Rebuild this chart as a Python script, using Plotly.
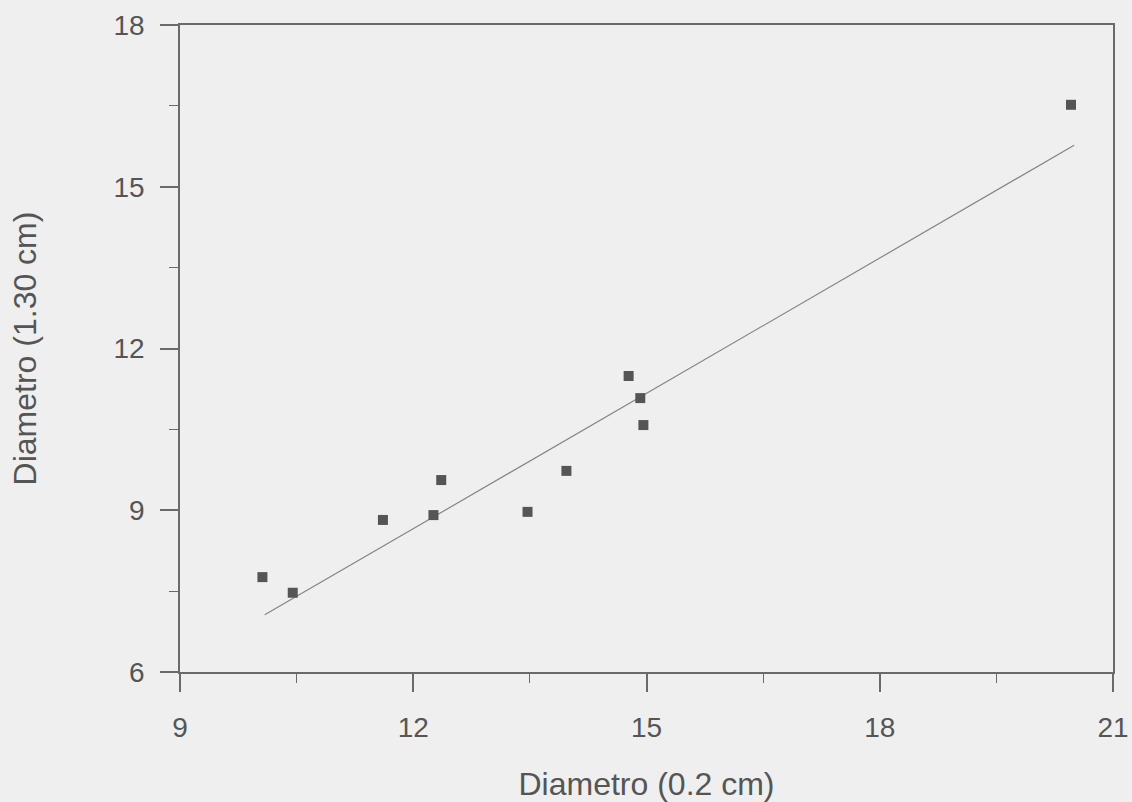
import plotly.graph_objects as go

# Data
x_vals = [10.06, 10.45, 11.61, 12.26, 12.36, 13.47, 13.97, 14.77, 14.92, 14.96, 20.46]
y_vals = [7.76, 7.47, 8.82, 8.91, 9.56, 8.97, 9.73, 11.49, 11.08, 10.58, 16.52]
fit_x = [10.09, 20.50]
fit_y = [7.06, 15.77]
x_ticks = [9, 12, 15, 18, 21]
y_ticks = [6, 9, 12, 15, 18]

bg = "#efefef"
ink = "#6a6a6a"
txt = "#555555"
font_family = "Liberation Sans, Arial, sans-serif"

fig = go.Figure()
fig.add_trace(go.Scatter(x=fit_x, y=fit_y, mode="lines",
                         line=dict(color="#858585", width=1.2), showlegend=False))
fig.add_trace(go.Scatter(x=x_vals, y=y_vals, mode="markers",
                         marker=dict(symbol="square", size=10, color="#555555",
                                     line=dict(width=0)), showlegend=False))

axis_common = dict(
    showgrid=False, zeroline=False, showline=True, linecolor=ink, linewidth=1.5,
    mirror=True, ticks="outside", ticklen=18, tickwidth=1.5, tickcolor=ink,
    tickfont=dict(family=font_family, size=28, color=txt),
    title_font=dict(family=font_family, size=32, color=txt),
    minor=dict(ticks="outside", ticklen=9, tickwidth=1.2, tickcolor=ink, dtick=1.5),
    automargin=False,
)

fig.update_xaxes(range=[9, 21], tickvals=x_ticks, title_text="Diametro (0.2 cm)",
                 ticklabelstandoff=12, title_standoff=31, **axis_common)
fig.update_yaxes(range=[6, 18], tickvals=y_ticks, title_text="Diametro (1.30 cm)",
                 ticklabelstandoff=10, title_standoff=67, **axis_common)

fig.update_layout(
    width=1132, height=802,
    margin=dict(l=180, r=19, t=25, b=130),
    paper_bgcolor=bg, plot_bgcolor=bg,
)

fig.write_html(
    "out.html",
    config={"displayModeBar": False},
    post_script="document.body.style.margin='0';document.body.style.background='#efefef';document.body.style.overflow='hidden';",
)
